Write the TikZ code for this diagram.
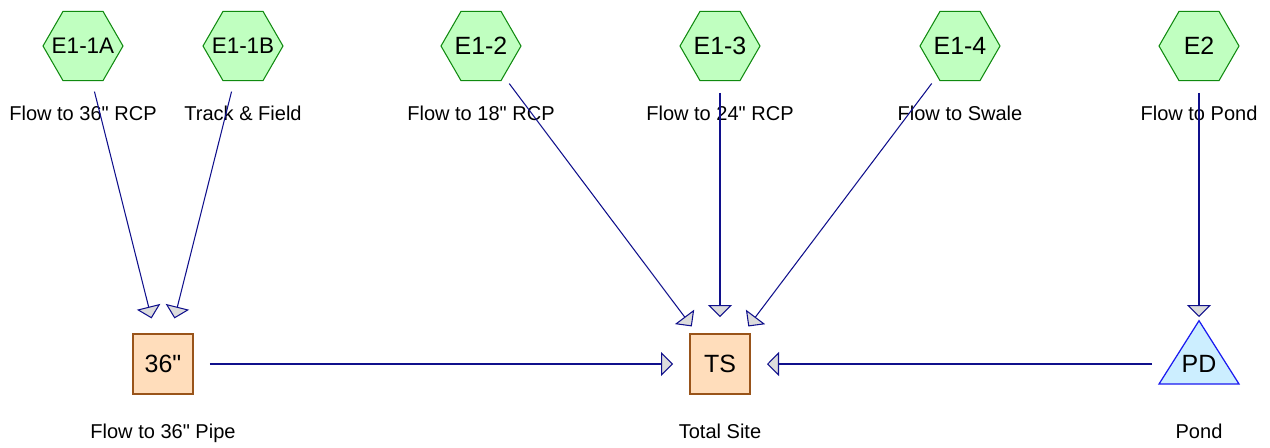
\documentclass[tikz,border=0pt]{standalone}
\usepackage{fontspec}
\setmainfont{Liberation Sans}
% same face, no tex-text mapping, so " stays straight
\newfontfamily\inchfont{Liberation Sans}
\usepackage{tikz}
\usetikzlibrary{arrows.meta}
\usetikzlibrary{shapes}
\usetikzlibrary{calc}

\definecolor{basinfill}{HTML}{C0FFC0}
\definecolor{basinline}{HTML}{108A10}
\definecolor{reachfill}{HTML}{FFDDBB}
\definecolor{reachline}{HTML}{99541A}
\definecolor{pondfill}{HTML}{CCEEFF}
\definecolor{pondline}{HTML}{1A1AF0}
\definecolor{flowline}{HTML}{10108C}
\definecolor{tipfill}{HTML}{DCDCDC}

\newcommand{\inchmark}{{\inchfont"}}

\begin{document}
\begin{tikzpicture}[x=0.02cm, y=-0.02cm,
        hex_style/.style={regular polygon, regular polygon sides=6, minimum size=1.6cm, inner sep=-6pt,
            draw=basinline, fill=basinfill, line width=0.6pt, font=\fontsize{14.2}{16}\selectfont},
        reach_style/.style={rectangle, minimum size=1.2cm, inner sep=0pt,
            draw=reachline, fill=reachfill, line width=0.7pt, font=\fontsize{14.2}{16}\selectfont},
        pond_style/.style={inner sep=0pt, font=\fontsize{14.2}{16}\selectfont},
        tag_style/.style={anchor=base, inner sep=0pt, font=\fontsize{11.4}{13}\selectfont},
        flow_style/.style={draw=flowline, line width=0.6pt, shorten <=0.94cm, shorten >=0.94cm,
            -{Triangle[length=0.24cm, width=0.48cm, fill=tipfill]}}]

        \useasboundingbox (0,0) rectangle (1270,447);

        % subcatchments
        \node [hex_style, font=\fontsize{12.8}{15}\selectfont](E11A) at (83,46) {E1-1A};
        \node [hex_style, font=\fontsize{12.8}{15}\selectfont](E11B) at (243,46) {E1-1B};
        \node [hex_style](E12) at (481,46) {E1-2};
        \node [hex_style](E13) at (720,46) {E1-3};
        \node [hex_style](E14) at (960,46) {E1-4};
        \node [hex_style](E2) at (1199,46) {E2};

        % reaches
        \node [reach_style](P36) at (163,364) {36\inchmark};
        \node [reach_style](TS) at (720,364) {TS};

        % pond
        \coordinate (PDc) at (1199,364);
        \draw [draw=pondline, fill=pondfill, line width=0.7pt]
            ($(PDc)+(0,-43.3)$) -- ($(PDc)+(40,20)$) -- ($(PDc)+(-40,20)$) -- cycle;
        \node [pond_style](PD) at (PDc) {PD};

        % descriptions
        \node [tag_style](E11A_tag) at ($(E11A)+(0,74)$) {Flow to 36\inchmark{} RCP};
        \node [tag_style](E11B_tag) at ($(E11B)+(0,74)$) {Track \& Field};
        \node [tag_style](E12_tag) at ($(E12)+(0,74)$) {Flow to 18\inchmark{} RCP};
        \node [tag_style](E13_tag) at ($(E13)+(0,74)$) {Flow to 24\inchmark{} RCP};
        \node [tag_style](E14_tag) at ($(E14)+(0,74)$) {Flow to Swale};
        \node [tag_style](E2_tag) at ($(E2)+(0,74)$) {Flow to Pond};
        \node [tag_style](P36_tag) at ($(P36)+(0,74)$) {Flow to 36\inchmark{} Pipe};
        \node [tag_style](TS_tag) at ($(TS)+(0,74)$) {Total Site};
        \node [tag_style](PD_tag) at ($(PDc)+(0,74)$) {Pond};

        % routing
        \draw [flow_style] (E11A.center) -- (P36.center);
        \draw [flow_style] (E11B.center) -- (P36.center);
        \draw [flow_style] (E12.center) -- (TS.center);
        \draw [flow_style] (E13.center) -- (TS.center);
        \draw [flow_style] (E14.center) -- (TS.center);
        \draw [flow_style] (E2.center) -- (PD.center);
        \draw [flow_style] (P36.center) -- (TS.center);
        \draw [flow_style] (PD.center) -- (TS.center);

\end{tikzpicture}
\end{document}
